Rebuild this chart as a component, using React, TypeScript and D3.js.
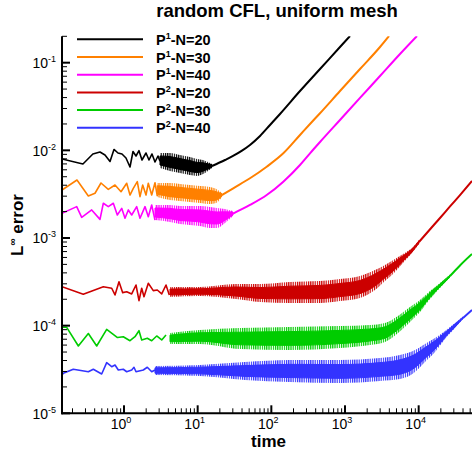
import React from "react";
import * as d3 from "d3";

// ---- data (time, L-infinity error) ----
// zig: individually visible oscillations; band: [time, upper, lower] envelope of dense oscillation; tail: smooth growth
const p1n20Zig = [[0.144,0.00797],[0.277,0.00699],[0.378,0.00909],[0.472,0.00958],[0.552,0.00885],[0.646,0.00746],[0.731,0.01023],[0.829,0.00933],[0.939,0.00909],[1.064,0.00818],[1.206,0.00646],[1.325,0.0097],[1.455,0.00862],[1.598,0.00991],[1.754,0.00776],[1.989,0.00933],[2.184,0.00776],[2.399,0.00909],[2.635,0.00736],[2.894,0.00862],[3.08,0.0075]];
const p1n20Band = [[3.08,0.00933,0.00629],[4.21,0.00933,0.00581],[5.75,0.00885,0.00551],[7.87,0.0084,0.00523],[9.79,0.00797,0.0051],[11.81,0.00776,0.00537],[13.81,0.00736,0.00581],[15.65,0.00699,0.00629]];
const p1n20Tail = [[15.65,0.00663],[23.5,0.00776],[30.2,0.00862],[39.96,0.00991],[51.3,0.01151],[70.2,0.01458],[95.9,0.01946],[131.1,0.026],[244.9,0.0475],[457.8,0.0847],[855,0.151],[1169,0.2016]];

const p1n30Zig = [[0.144,0.00353],[0.23,0.00459],[0.328,0.00301],[0.404,0.00324],[0.487,0.00424],[0.612,0.00359],[0.755,0.00402],[0.911,0.00337],[1.088,0.00421],[1.206,0.00309],[1.337,0.00369],[1.515,0.00439],[1.649,0.00296],[1.794,0.00402],[1.989,0.00309],[2.137,0.00421],[2.377,0.00309],[2.635,0.00427],[2.831,0.00301]];
const p1n30Band = [[2.83,0.00424,0.00294],[4.21,0.00424,0.00271],[5.75,0.00413,0.00264],[7.87,0.00402,0.00257],[10.75,0.00392,0.00251],[14.7,0.00382,0.00244],[17.74,0.00364,0.00251],[21.4,0.00326,0.00294]];
const p1n30Tail = [[21.4,0.00309],[30.4,0.00369],[51.3,0.0048],[86.5,0.00651],[145.4,0.00925],[244.9,0.01496],[334.8,0.01998],[457.8,0.0265],[855,0.0475],[1598,0.0847],[2985,0.151],[3955,0.2016]];

const p1n40Zig = [[0.144,0.00191],[0.228,0.00228],[0.2666,0.00172],[0.3643,0.00209],[0.472,0.00163],[0.524,0.00249],[0.612,0.00228],[0.716,0.00249],[0.811,0.00183],[0.931,0.00218],[1.032,0.00168],[1.144,0.00209],[1.272,0.00183],[1.487,0.00228],[1.649,0.00168],[1.928,0.00228],[2.137,0.00175],[2.377,0.00238],[2.635,0.0016]];
const p1n40Band = [[2.635,0.00238,0.0016],[4.21,0.00238,0.00152],[5.75,0.00232,0.00144],[7.87,0.00232,0.00141],[10.75,0.00232,0.00137],[14.7,0.00226,0.0013],[18.3,0.0022,0.0013],[23.5,0.00214,0.00148],[30.2,0.00203,0.00178]];
const p1n40Tail = [[30.2,0.0019],[51.3,0.00238],[86.5,0.00309],[145.4,0.00439],[244.9,0.00681],[334.8,0.00925],[457.8,0.01245],[855,0.0222],[1598,0.0396],[2985,0.0705],[5579,0.1257],[9490,0.2016]];

const p2n20Zig = [[0.144,2.78e-4],[0.28,2.28e-4],[0.524,2.78e-4],[0.681,2.67e-4],[0.755,2.24e-4],[0.855,3.17e-4],[0.96,2.38e-4],[1.088,2.44e-4],[1.272,2.3e-4],[1.455,2.91e-4],[1.598,1.93e-4],[1.739,2.67e-4],[1.868,2.14e-4],[2.137,3.04e-4],[2.498,2.51e-4],[2.831,2.55e-4],[3.25,2.3e-4],[3.717,2.91e-4],[4.121,2.24e-4]];
const p2n20Band = [[4.21,2.76e-4,2.12e-4],[10.75,2.76e-4,2.18e-4],[33.1,2.99e-4,2.01e-4],[70.2,2.99e-4,1.86e-4],[179,3.15e-4,1.81e-4],[458,3.23e-4,1.81e-4],[855,3.4e-4,1.91e-4],[1598,3.68e-4,2.07e-4],[2553,4.31e-4,2.55e-4],[3491,4.92e-4,3.23e-4],[4771,5.76e-4,4.09e-4],[6126,6.57e-4,5.18e-4],[8120,7.69e-4,6.74e-4],[10090,9.49e-4,8.54e-4]];
const p2n20Tail = [[10090,9.0e-4],[13810,1.218e-3],[19480,1.69e-3],[26630,2.29e-3],[36390,3.09e-3],[52960,4.47e-3]];

const p2n30Zig = [[0.144,9.57e-5],[0.1667,9.57e-5],[0.24,5.86e-5],[0.328,8.14e-5],[0.426,5.86e-5],[0.582,9.08e-5],[0.816,7.32e-5],[0.978,7.48e-5],[1.206,6.73e-5],[1.41,7.48e-5],[1.598,8.76e-5],[1.739,6.86e-5],[2.072,7.17e-5],[2.377,6.73e-5],[2.779,7.62e-5],[3.25,6.86e-5],[3.717,7.82e-5]];
const p2n30Band = [[4.21,8.25e-5,6.18e-5],[10.75,8.92e-5,6.18e-5],[37.55,9.4e-5,5.41e-5],[179,9.65e-5,5.28e-5],[855,9.91e-5,5.56e-5],[2184,1.017e-4,6.02e-5],[3491,1.072e-4,6.51e-5],[5241,1.29e-4,8.25e-5],[7625,1.63e-4,1.1e-4],[10420,1.96e-4,1.43e-4],[14250,2.48e-4,2.01e-4],[19480,3.07e-4,2.69e-4],[26630,3.83e-4,3.54e-4]];
const p2n30Tail = [[26630,3.68e-4],[36390,4.86e-4],[52960,6.57e-4]];

const p2n40Zig = [[0.144,2.73e-5],[0.15,2.86e-5],[0.205,3.18e-5],[0.328,2.98e-5],[0.383,3.18e-5],[0.498,2.81e-5],[0.582,3.78e-5],[0.681,3.4e-5],[0.755,3.56e-5],[0.837,3.12e-5],[0.978,3.18e-5],[1.088,2.98e-5],[1.272,3.12e-5],[1.367,3.35e-5],[1.455,2.98e-5],[1.828,3.12e-5],[2.072,3.35e-5],[2.377,2.98e-5],[2.635,3.12e-5]];
const p2n40Band = [[2.635,3.46e-5,2.73e-5],[10.75,3.56e-5,2.66e-5],[43.9,3.85e-5,2.4e-5],[179,4.06e-5,2.28e-5],[855,4.06e-5,2.22e-5],[2985,4.27e-5,2.34e-5],[5579,4.63e-5,2.46e-5],[8913,5.28e-5,2.96e-5],[12190,6.18e-5,3.85e-5],[16660,7.23e-5,5.0e-5],[22770,8.69e-5,7.04e-5],[31130,1.072e-4,9.4e-5],[39980,1.272e-4,1.19e-4]];
const p2n40Tail = [[39980,1.223e-4],[52960,1.51e-4]];

const legendOrder = ["1", "1", "1", "2", "2", "2"];
const legendN = ["20", "30", "40", "20", "30", "40"];
const seriesColors = ["#000000", "#ff8000", "#ff00ff", "#cc0000", "#00cc00", "#3333ff"];
const seriesZig = [p1n20Zig, p1n30Zig, p1n40Zig, p2n20Zig, p2n30Zig, p2n40Zig];
const seriesBand = [p1n20Band, p1n30Band, p1n40Band, p2n20Band, p2n30Band, p2n40Band];
const seriesTail = [p1n20Tail, p1n30Tail, p1n40Tail, p2n20Tail, p2n30Tail, p2n40Tail];

const xDecades = [0, 1, 2, 3, 4];
const yDecades = [-5, -4, -3, -2, -1];

const titleText = "random CFL, uniform mesh";
const xLabelText = "time";

const FONT = '"Liberation Sans", Arial, Helvetica, sans-serif';
const W = 472, H = 452;
const L = 62, R = 472, T = 36.3, B = 413.3;

export default function App() {
  const x = d3.scaleLog().domain([0.144, 52960]).range([L, R]);
  const y = d3.scaleLog().domain([1e-5, 0.2]).range([B, T]);

  const line = d3.line<number[]>().x(d => x(d[0])).y(d => y(d[1])).curve(d3.curveMonotoneX);
  const zigLine = d3.line<number[]>().x(d => x(d[0])).y(d => y(d[1]));
  const area = d3.area<number[]>().x(d => x(d[0])).y0(d => y(d[2])).y1(d => y(d[1])).curve(d3.curveMonotoneX);
  // solid core of the dense oscillation band (inner part of the envelope, in log space)
  const coreArea = d3.area<number[]>()
    .x(d => x(d[0]))
    .y0(d => { const a = Math.log(d[2]), b = Math.log(d[1]); return y(Math.exp(a + 0.2 * (b - a))); })
    .y1(d => { const a = Math.log(d[2]), b = Math.log(d[1]); return y(Math.exp(a + 0.8 * (b - a))); })
    .curve(d3.curveMonotoneX);

  const xMinor: number[] = [];
  for (let k = -1; k <= 4; k++) for (let m = 2; m <= 9; m++) {
    const v = m * Math.pow(10, k);
    if (v >= 0.144 && v <= 52960) xMinor.push(v);
  }
  const yMinor: number[] = [];
  for (let k = -5; k <= -1; k++) for (let m = 2; m <= 9; m++) {
    const v = m * Math.pow(10, k);
    if (v <= 0.2) yMinor.push(v);
  }

  const legendY0 = 39.3, legendDy = 17.7;

  return (
    <svg width={W} height={H} viewBox={`0 0 ${W} ${H}`}
      style={{ position: "absolute", left: 0, top: 0, background: "#fff" }}
      fontFamily={FONT}>
      <defs>
        <clipPath id="plotClip">
          <rect x={L} y={T} width={R - L} height={B - T} />
        </clipPath>
        {seriesColors.map((c, i) => (
          <pattern key={"pt" + i} id={"stripe" + i} patternUnits="userSpaceOnUse" width={2.2} height={8}>
            <rect x={0} y={0} width={1.2} height={8} fill={c} />
          </pattern>
        ))}
      </defs>
      <rect x={0} y={0} width={W} height={H} fill="#fff" />

      <g clipPath="url(#plotClip)">
        {seriesColors.map((c, i) => (
          <g key={i}>
            <path d={area(seriesBand[i] as number[][]) || ""} fill={`url(#stripe${i})`} stroke="none" />
            <path d={coreArea(seriesBand[i] as number[][]) || ""} fill={c} stroke={c} strokeWidth={1} strokeLinejoin="round" />
            <path d={zigLine(seriesZig[i] as number[][]) || ""} fill="none" stroke={c} strokeWidth={1.6} strokeLinejoin="round" />
            <path d={line(seriesTail[i] as number[][]) || ""} fill="none" stroke={c} strokeWidth={2} strokeLinejoin="round" />
          </g>
        ))}
      </g>

      {/* axes */}
      <line x1={L} x2={L} y1={T} y2={B + 1} stroke="#000" strokeWidth={2} />
      <line x1={L - 1} x2={R} y1={B} y2={B} stroke="#000" strokeWidth={2} />
      {xMinor.map((v, i) => (
        <line key={"xm" + i} x1={x(v)} x2={x(v)} y1={B} y2={B - 5} stroke="#000" strokeWidth={1} />
      ))}
      {xDecades.map(k => (
        <line key={"xM" + k} x1={x(Math.pow(10, k))} x2={x(Math.pow(10, k))} y1={B} y2={B - 8} stroke="#000" strokeWidth={2} />
      ))}
      {yMinor.map((v, i) => (
        <line key={"ym" + i} x1={L} x2={L + 5} y1={y(v)} y2={y(v)} stroke="#000" strokeWidth={1} />
      ))}
      {yDecades.map(k => (
        <line key={"yM" + k} x1={L} x2={L + 8} y1={y(Math.pow(10, k))} y2={y(Math.pow(10, k))} stroke="#000" strokeWidth={2} />
      ))}

      {xDecades.map(k => (
        <text key={"xl" + k} x={x(Math.pow(10, k)) - 3} y={428.5} textAnchor="middle" fontSize={14} fill="#000">
          10<tspan fontSize={9} dy={-6}>{String(k)}</tspan>
        </text>
      ))}
      {yDecades.map(k => (
        <text key={"yl" + k} x={56} y={y(Math.pow(10, k)) + 5.5} textAnchor="end" fontSize={14} fill="#000">
          10<tspan fontSize={9} dy={-6}>{String(k)}</tspan>
        </text>
      ))}

      {/* titles */}
      <text x={277} y={17} textAnchor="middle" fontSize={18.5} fontWeight="bold" fill="#000">{titleText}</text>
      <text x={268.5} y={446.5} textAnchor="middle" fontSize={17} fontWeight="bold" fill="#000">{xLabelText}</text>
      <text transform="translate(23,225) rotate(-90)" textAnchor="middle" fontSize={17} fontWeight="bold" fill="#000">
        L<tspan fontSize={10} dy={-7}>∞</tspan><tspan dy={7}> error</tspan>
      </text>

      {/* legend */}
      {seriesColors.map((c, i) => {
        const ly = legendY0 + i * legendDy;
        return (
          <g key={"lg" + i}>
            <line x1={77} x2={143} y1={ly} y2={ly} stroke={c} strokeWidth={2} />
            <text x={156} y={ly + 5.5} fontSize={14.5} fontWeight="bold" fill="#000">
              P<tspan fontSize={9} dy={-6}>{legendOrder[i]}</tspan><tspan dy={6}>{"-N=" + legendN[i]}</tspan>
            </text>
          </g>
        );
      })}
    </svg>
  );
}
